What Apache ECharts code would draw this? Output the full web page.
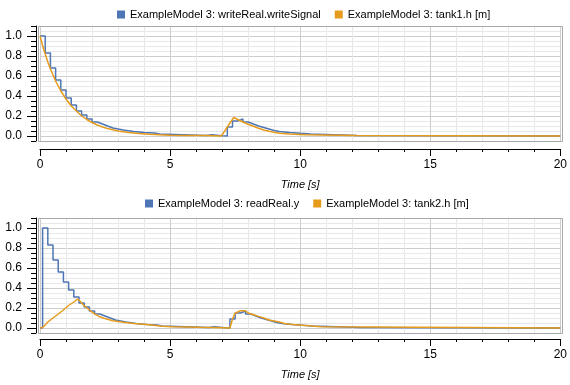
<!DOCTYPE html>
<html><head><meta charset="utf-8">
<script src="https://cdn.jsdelivr.net/npm/echarts@6/dist/echarts.min.js"></script>
<style>html,body{margin:0;padding:0;background:#fff}#c{width:570px;height:385px}</style>
</head><body><div id="c"></div>
<script>
// ---- data ----
const seriesNames1 = ['ExampleModel 3: writeReal.writeSignal', 'ExampleModel 3: tank1.h [m]'];
const seriesNames2 = ['ExampleModel 3: readReal.y', 'ExampleModel 3: tank2.h [m]'];

const writeTime = [0,0.2,0.4,0.6,0.8,1.0,1.2,1.4,1.6,1.8,2.0,2.2,2.4,2.6,2.8,3.0,3.2,3.6,4.0,4.4,4.6,6.4,6.6,7.0,7.2,7.4,7.6,7.8,8.0,8.2,8.4,8.6,8.8,9.0,9.2,9.6,10.0,10.4,12.2,20];
const writeVal  = [1.0,0.83,0.68,0.56,0.46,0.38,0.31,0.25,0.21,0.17,0.14,0.12,0.10,0.08,0.07,0.06,0.045,0.035,0.03,0.02,0.005,0.012,0.002,0.0,0.09,0.15,0.17,0.14,0.12,0.10,0.085,0.07,0.055,0.045,0.035,0.027,0.02,0.006,0.0,0.0];

const tank1Time = [0,0.1,0.2,0.3,0.4,0.5,0.6,0.7,0.8,0.9,1.0,1.2,1.4,1.6,1.8,2.0,2.2,2.4,2.6,2.8,3.0,3.4,3.8,4.2,4.6,5.0,5.6,6.4,6.45,6.97,7.1,7.2,7.3,7.45,7.6,7.8,8.0,8.2,8.4,8.6,8.8,9.0,9.2,9.6,10.2,10.25,12.15,12.2,20];
const tank1Val  = [1.0,0.905,0.82,0.74,0.67,0.61,0.55,0.50,0.45,0.41,0.37,0.30,0.25,0.20,0.165,0.135,0.11,0.09,0.075,0.062,0.05,0.035,0.025,0.017,0.012,0.008,0.006,0.004,0.0,0.0,0.05,0.09,0.13,0.185,0.165,0.14,0.117,0.098,0.078,0.06,0.048,0.037,0.028,0.02,0.012,0.004,0.004,0.0,0.0];

const readTime = [0,0.1,0.3,0.5,0.7,0.9,1.1,1.3,1.5,1.7,1.9,2.1,2.3,2.5,2.7,2.9,3.1,3.3,3.7,4.1,4.5,4.7,6.5,6.7,7.1,7.3,7.5,7.7,7.9,8.1,8.3,8.5,8.7,8.9,9.1,9.3,9.7,10.1,10.5,12.3,20];
const readVal  = [0,1.0,0.83,0.68,0.56,0.46,0.38,0.31,0.25,0.21,0.17,0.14,0.12,0.10,0.08,0.07,0.06,0.045,0.035,0.03,0.02,0.005,0.012,0.002,0.0,0.09,0.15,0.17,0.14,0.12,0.10,0.085,0.07,0.055,0.045,0.035,0.027,0.02,0.006,0.0,0.0];

const tank2Time = [0,0.1,0.2,0.3,0.5,0.7,0.9,1.1,1.3,1.45,1.55,1.65,1.85,2.05,2.25,2.45,2.8,3.2,3.6,4.1,4.7,5.1,6.1,6.7,6.75,7.3,7.4,7.5,7.6,7.7,7.9,8.0,8.2,8.4,8.6,8.8,9.2,9.4,9.7,10.2,10.8,12.7,12.75,20];
const tank2Val  = [0,0.005,0.03,0.06,0.10,0.14,0.18,0.225,0.26,0.29,0.265,0.235,0.19,0.148,0.118,0.097,0.073,0.057,0.044,0.036,0.018,0.013,0.008,0.006,0.0,0.0,0.09,0.15,0.16,0.173,0.173,0.15,0.133,0.116,0.10,0.08,0.06,0.045,0.035,0.024,0.012,0.01,0.0,0.0];

const yTickValues = [0, 0.2, 0.4, 0.6, 0.8, 1.0];
const xAxisTitle = 'Time [s]';

// ---- styling ----
const FONT = 'Liberation Sans';
const BLUE = '#4f76b4', ORANGE = '#e69b1c';
const MINOR = '#e8e8e8', MAJOR = '#cdcdcd';
const pairs = (t, v) => t.map((x, i) => [x, v[i]]);

const grids = [
  { left: 40, right: 8, top: 26, height: 115, xOff: 8, legendTop: 9, legendLeft: 117 },
  { left: 40, right: 8, top: 218, height: 115, xOff: 6, legendTop: 198, legendLeft: 145 }
];

const xAxes = [], yAxes = [];
grids.forEach((g, gi) => {
  xAxes.push({
    gridIndex: gi, type: 'value', min: 0, max: 20, interval: 1, position: 'bottom', offset: g.xOff,
    axisLine: { show: true, onZero: false, lineStyle: { color: '#000', width: 1 } },
    axisTick: { show: true, length: 3, lineStyle: { color: '#000' } },
    axisLabel: { show: false },
    splitLine: { show: true, lineStyle: { color: [MAJOR, MINOR, MINOR, MINOR, MINOR], width: 1 } }
  });
  xAxes.push({
    gridIndex: gi, type: 'value', min: 0, max: 20, interval: 5, position: 'bottom', offset: g.xOff,
    axisLine: { show: false, onZero: false },
    axisTick: { show: true, length: 7, lineStyle: { color: '#000' } },
    axisLabel: { show: true, margin: 10, fontSize: 12, color: '#000', fontFamily: FONT },
    splitLine: { show: false },
    name: xAxisTitle, nameLocation: 'middle', nameGap: 30,
    nameTextStyle: { fontSize: 11, fontStyle: 'italic', color: '#000', fontFamily: FONT }
  });
  yAxes.push({
    gridIndex: gi, type: 'value', min: -0.05, max: 1.1, interval: 0.05, position: 'left', offset: 4,
    axisLine: { show: true, onZero: false, lineStyle: { color: '#000', width: 1 } },
    axisTick: { show: true, length: 5, lineStyle: { color: '#000' } },
    axisLabel: { show: false },
    splitLine: { show: true, lineStyle: { color: [MINOR, MAJOR, MINOR, MINOR], width: 1 } }
  });
  yAxes.push({
    gridIndex: gi, type: 'value', min: -0.05, max: 1.1, position: 'left', offset: 4,
    axisLine: { show: false, onZero: false },
    axisTick: { show: true, length: 9, customValues: yTickValues, lineStyle: { color: '#000' } },
    axisLabel: { show: true, customValues: yTickValues, formatter: v => v.toFixed(1), margin: 14, fontSize: 12, color: '#000', fontFamily: FONT },
    splitLine: { show: false }
  });
});

function lineSeries(name, data, gi, color, step, width) {
  return {
    name, type: 'line', data, xAxisIndex: gi * 2, yAxisIndex: gi * 2, step: step,
    symbol: 'none', showSymbol: false, color: color,
    lineStyle: { color: color, width: width }, animation: false
  };
}

const legendStyle = { itemWidth: 8, itemHeight: 8, itemGap: 14, icon: 'rect', padding: 0,
  textStyle: { fontSize: 11, fontFamily: FONT, color: '#000' } };

const option = {
  animation: false,
  backgroundColor: '#fff',
  grid: grids.map(g => ({ left: g.left, right: g.right, top: g.top, height: g.height, containLabel: false })),
  xAxis: xAxes,
  yAxis: yAxes,
  legend: [
    Object.assign({ data: seriesNames1, left: grids[0].legendLeft, top: grids[0].legendTop }, legendStyle),
    Object.assign({ data: seriesNames2, left: grids[1].legendLeft, top: grids[1].legendTop }, legendStyle)
  ],
  graphic: grids.map(g => ({
    type: 'rect', z: 10, silent: true,
    shape: { x: 38.5, y: g.top + 0.5, width: 524, height: g.height },
    style: { fill: 'transparent', stroke: '#a8a8a8', lineWidth: 1 }
  })),
  series: [
    lineSeries(seriesNames1[0], pairs(writeTime, writeVal), 0, BLUE, 'end', 1.5),
    lineSeries(seriesNames1[1], pairs(tank1Time, tank1Val), 0, ORANGE, false, 1.5),
    lineSeries(seriesNames2[0], pairs(readTime, readVal), 1, BLUE, 'end', 1.5),
    lineSeries(seriesNames2[1], pairs(tank2Time, tank2Val), 1, ORANGE, false, 1.5)
  ]
};

const chart = echarts.init(document.getElementById('c'), null, { renderer: 'canvas' });
chart.setOption(option);
</script>
</body></html>
